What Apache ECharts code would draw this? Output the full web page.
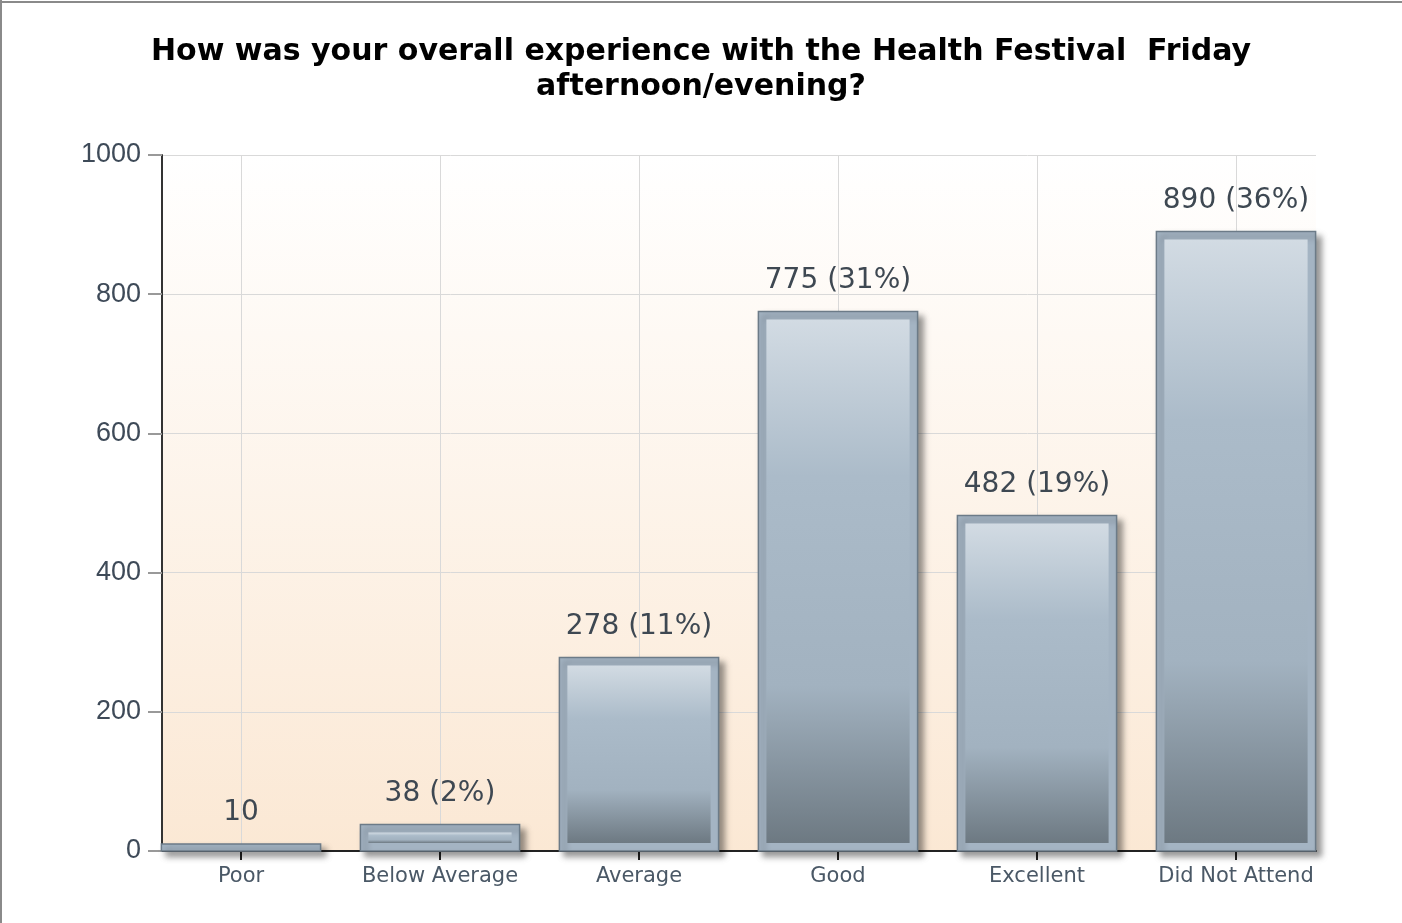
<!DOCTYPE html>
<html>
<head>
<meta charset="utf-8">
<script src="https://cdn.jsdelivr.net/npm/echarts@6/dist/echarts.min.js"></script>
<style>
html,body{margin:0;padding:0;background:#fff;}
#chart{width:1402px;height:923px;}
</style>
</head>
<body>
<div id="chart"></div>
<script>
var categories = ['Poor', 'Below Average', 'Average', 'Good', 'Excellent', 'Did Not Attend'];
var counts = [10, 38, 278, 775, 482, 890];
var percents = [null, 2, 11, 31, 19, 36];
var yTicks = [0, 200, 400, 600, 800, 1000];
var titleText = 'How was your overall experience with the Health Festival  Friday\nafternoon/evening?';

var chart = echarts.init(document.getElementById('chart'));

function barLabel(i) {
    return percents[i] == null ? String(counts[i]) : counts[i] + ' (' + percents[i] + '%)';
}

function renderBar(params, api) {
    var i = api.value(0);
    var top = api.coord([i, api.value(1)]);
    var base = api.coord([i, 0]);
    var w = api.size([1, 0])[0] * 0.8;
    var x = top[0] - w / 2;
    var h = base[1] - top[1];
    var inset = 8;
    var children = [{
        type: 'rect',
        shape: {x: x, y: top[1], width: w, height: h},
        style: {
            fill: '#a4b4c3', stroke: '#6c7b88', lineWidth: 1.5,
            shadowBlur: 6, shadowOffsetX: 5, shadowOffsetY: 5, shadowColor: 'rgba(0,0,0,0.4)'
        }
    }];
    if (h > inset * 2 + 2) {
        children.push({
            type: 'rect',
            shape: {x: x + inset, y: top[1] + inset, width: w - inset * 2, height: h - inset * 2},
            style: {
                fill: new echarts.graphic.LinearGradient(0, 0, 0, 1, [
                    {offset: 0, color: '#d2dbe3'},
                    {offset: 0.3, color: '#abbbc9'},
                    {offset: 0.7, color: '#a2b2c0'},
                    {offset: 1, color: '#6d7982'}
                ])
            }
        });
    }
    children.push({
        type: 'text',
        style: {
            text: barLabel(i),
            x: top[0], y: top[1] - 31,
            align: 'center', verticalAlign: 'middle',
            font: '28px "DejaVu Sans", sans-serif',
            fill: '#3e4852'
        }
    });
    return {type: 'group', children: children};
}

var option = {
    backgroundColor: '#ffffff',
    animation: false,
    title: {
        text: titleText,
        left: 'center',
        top: 30,
        textStyle: {
            fontFamily: '"DejaVu Sans", sans-serif',
            fontWeight: 'bold', fontSize: 30, lineHeight: 35, color: '#000'
        }
    },
    graphic: [
        {type: 'line', shape: {x1: 0, y1: 2, x2: 1402, y2: 2}, style: {stroke: '#8a8a8a', lineWidth: 2}},
        {type: 'line', shape: {x1: 1, y1: 0, x2: 1, y2: 923}, style: {stroke: '#8a8a8a', lineWidth: 2}}
    ],
    grid: [
        {
            left: 162, right: 86, top: 155, bottom: 72, show: true, borderWidth: 0,
            backgroundColor: new echarts.graphic.LinearGradient(0, 0, 0, 1, [
                {offset: 0, color: '#ffffff'},
                {offset: 1, color: '#fbe8d4'}
            ])
        },
        {left: 241, right: 166, top: 155, bottom: 72}
    ],
    xAxis: [
        {
            gridIndex: 0, type: 'category', data: categories,
            axisLine: {lineStyle: {color: '#222', width: 2}},
            axisTick: {show: false}, axisLabel: {show: false}, splitLine: {show: false}
        },
        {
            gridIndex: 1, type: 'category', data: categories, boundaryGap: false,
            axisLine: {show: false},
            axisTick: {show: true, interval: 0, length: 9, lineStyle: {color: '#222', width: 2}},
            axisLabel: {
                interval: 0, hideOverlap: false,
                margin: 15, fontSize: 21, color: '#4a5866',
                fontFamily: '"DejaVu Sans", sans-serif'
            },
            splitLine: {show: true, interval: 0, lineStyle: {color: '#d9d9d9', width: 1}}
        }
    ],
    yAxis: [
        {
            gridIndex: 0, type: 'value', min: yTicks[0], max: yTicks[yTicks.length - 1], interval: 200,
            axisLine: {show: true, lineStyle: {color: '#333', width: 2}},
            axisTick: {show: true, length: 14, lineStyle: {color: '#999', width: 2}},
            axisLabel: {
                margin: 21, fontSize: 27, color: '#3e4a58',
                fontFamily: '"Liberation Sans", Arial, sans-serif',
                formatter: function(v) { return String(v); }
            },
            splitLine: {show: true, lineStyle: {color: '#d9d9d9', width: 1}}
        },
        {
            gridIndex: 1, type: 'value', min: 0, max: 1000, interval: 200, show: false
        }
    ],
    series: [{
        type: 'custom',
        xAxisIndex: 1, yAxisIndex: 1,
        clip: false,
        renderItem: renderBar,
        data: counts.map(function(v, i) { return [i, v]; })
    }]
};
chart.setOption(option);
</script>
</body>
</html>
